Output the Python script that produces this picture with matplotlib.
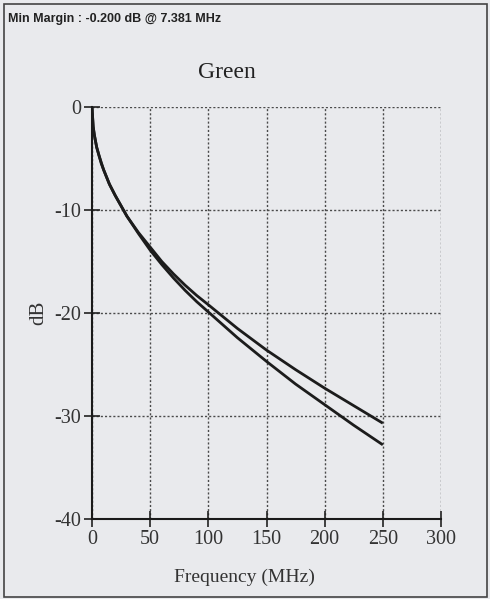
import matplotlib
matplotlib.use('Agg')
import matplotlib.pyplot as plt
from matplotlib.patches import Rectangle

# values (MHz, dB)
freq = [0, 1, 2, 4, 6, 8, 10, 15, 20, 25, 30, 40, 50, 60, 70, 80, 90, 100,
        125, 150, 175, 200, 225, 250]
loss_a = [0, -1.9, -2.7, -3.9, -4.7, -5.5, -6.1, -7.5, -8.6, -9.6, -10.6, -12.2,
          -13.6, -15.0, -16.2, -17.3, -18.3, -19.2, -21.5, -23.6, -25.5, -27.3,
          -29.0, -30.7]
loss_b = [0, -1.9, -2.7, -3.9, -4.7, -5.4, -6.1, -7.5, -8.6, -9.6, -10.6, -12.3,
          -13.9, -15.3, -16.6, -17.8, -18.9, -19.9, -22.4, -24.7, -26.9, -28.9,
          -30.9, -32.8]
x_ticks = [0, 50, 100, 150, 200, 250, 300]
y_ticks = [0, -10, -20, -30, -40]

bg = '#e9eaed'
serif = ['Liberation Serif', 'DejaVu Serif']

fig = plt.figure(figsize=(4.9, 5.99), dpi=100, facecolor=bg)
ax = fig.add_axes([92/490., 80/599., 349/490., 412/599.], facecolor=bg)

ax.plot(freq, loss_a, color='#1c1c1c', linewidth=2.0, solid_capstyle='butt')
ax.plot(freq, loss_b, color='#1c1c1c', linewidth=2.0, solid_capstyle='butt')

ax.set_xlim(0, 300)
ax.set_ylim(-40, 0)
ax.set_xticks(x_ticks)
ax.set_yticks(y_ticks)
ax.set_xticklabels([str(t) for t in x_ticks], family=serif, fontsize=14.5, color='#333333')
ax.set_yticklabels([str(t) for t in y_ticks], family=serif, fontsize=14.5, color='#333333')
ax.tick_params(direction='inout', length=12, width=1.2, color='#222222', pad=2)

ax.grid(True, linestyle=(0, (1.5, 1.5)), color='#4a4a4a', linewidth=1.0)
for s in ['top', 'right']:
    ax.spines[s].set_visible(False)
for s in ['left', 'bottom']:
    ax.spines[s].set_linewidth(1.5)
    ax.spines[s].set_color('#1a1a1a')

ax.set_ylabel('dB', family=serif, fontsize=15, color='#333333', labelpad=4)
fig.text(244/490., 1 - 577/599., 'Frequency (MHz)', family=serif, fontsize=14,
         color='#333333', ha='center', va='center')
fig.text(227/490., 1 - 72/599., 'Green', family=serif, fontsize=17,
         color='#222222', ha='center', va='center')
fig.text(8/490., 1 - 19/599., 'Min Margin : -0.200 dB @ 7.381 MHz',
         family=['Liberation Sans', 'DejaVu Sans'], fontsize=9, fontweight='bold',
         color='#222222', ha='left', va='center')

# outer frame
fig.patches.append(Rectangle((4/490., 2/599.), 483/490., 593/599., transform=fig.transFigure,
                             fill=False, edgecolor='#444444', linewidth=1.2))

fig.savefig('out.png', dpi=100, facecolor=bg)
